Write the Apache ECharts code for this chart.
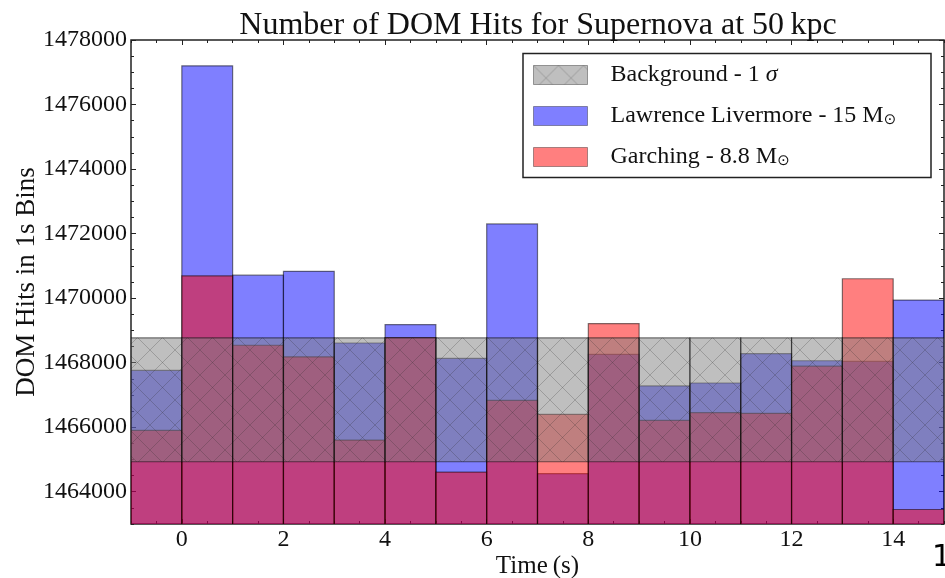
<!DOCTYPE html>
<html>
<head>
<meta charset="utf-8">
<title>Number of DOM Hits for Supernova at 50 kpc</title>
<script src="https://cdn.jsdelivr.net/npm/echarts@6/dist/echarts.min.js"></script>
<style>
  html, body { margin: 0; padding: 0; background: #fff; }
  #chart { width: 945px; height: 578px; }
</style>
</head>
<body>
<div id="chart"></div>
<script>
// Left edge of each 1 s time bin
const binStart = [-1, 0, 1, 2, 3, 4, 5, 6, 7, 8, 9, 10, 11, 12, 13, 14];

// DOM hits per bin, Lawrence Livermore model (15 solar masses)
const hitsLivermore = [1467760, 1477200, 1470710, 1470830, 1468610, 1469180, 1468130, 1472300,
                       1464560, 1468260, 1467280, 1467370, 1468280, 1468060, 1468040, 1469940];

// DOM hits per bin, Garching model (8.8 solar masses)
const hitsGarching = [1465900, 1470690, 1468540, 1468180, 1465600, 1468780, 1464610, 1466830,
                      1466400, 1469210, 1466210, 1466450, 1466430, 1467890, 1470600, 1463450];

// Background expectation, 1 sigma band per bin
const bgLower = [1464930, 1464930, 1464930, 1464930, 1464930, 1464930, 1464930, 1464930,
                 1464930, 1464930, 1464930, 1464930, 1464930, 1464930, 1464930, 1464930];
const bgUpper = [1468770, 1468770, 1468770, 1468770, 1468770, 1468770, 1468770, 1468770,
                 1468770, 1468770, 1468770, 1468770, 1468770, 1468770, 1468770, 1468770];

// Tick labels
const xTickValues = [0, 2, 4, 6, 8, 10, 12, 14];
const yTickValues = [1464000, 1466000, 1468000, 1470000, 1472000, 1474000, 1476000, 1478000];

const X_MIN = -1, X_MAX = 15, Y_MIN = 1463000, Y_MAX = 1478000;
const SERIF = '"Liberation Serif", "DejaVu Serif", serif';
const INK = '#111';

// Cross-hatch tile for the background band
function hatchTile() {
  const s = 25;
  const c = document.createElement('canvas');
  c.width = s; c.height = s;
  const g = c.getContext('2d');
  g.fillStyle = 'rgba(128,128,128,0.5)';
  g.fillRect(0, 0, s, s);
  g.strokeStyle = 'rgba(40,40,40,0.24)';
  g.lineWidth = 1;
  g.beginPath();
  g.moveTo(-2, -2); g.lineTo(s + 2, s + 2);
  g.moveTo(s + 2, -2); g.lineTo(-2, s + 2);
  g.stroke();
  return c;
}
const hatchFill = { image: hatchTile(), repeat: 'repeat' };

const BLUE = 'rgba(0,0,255,0.5)';
const RED = 'rgba(255,0,0,0.5)';
const EDGE = 'rgba(0,0,0,0.5)';

// Histogram step bars: each datum is [binStart, top, bottom]
function histRender(fill) {
  return function (params, api) {
    const x0 = api.value(0);
    const top = api.value(1);
    const bottom = api.value(2);
    const p0 = api.coord([x0, top]);
    const p1 = api.coord([x0 + 1, bottom]);
    return {
      type: 'rect',
      shape: { x: p0[0], y: p0[1], width: p1[0] - p0[0], height: p1[1] - p0[1] },
      style: { fill: fill, stroke: EDGE, lineWidth: 1.2 }
    };
  };
}

const seriesNames = ['Background - 1 σ', 'Lawrence Livermore - 15 M⊙', 'Garching - 8.8 M⊙'];

function legendText(name) {
  if (name.indexOf('σ') >= 0) return name.replace('σ', '{it|σ}');
  return name.replace('M⊙', 'M{sub|⊙}');
}

const valueAxisBase = {
  type: 'value',
  splitLine: { show: false },
  axisLine: { show: false, onZero: false }
};

function tickAxis(pos, min, max, extra) {
  return Object.assign({}, valueAxisBase, { position: pos, min: min, max: max }, extra);
}

const tickLine = { color: '#222', width: 1 };

const chart = echarts.init(document.getElementById('chart'), null, { renderer: 'canvas' });

chart.setOption({
  animation: false,
  backgroundColor: '#fff',
  title: {
    text: 'Number of DOM Hits for Supernova at 50\u2009kpc',
    left: 533,
    top: 5,
    textAlign: 'center',
    textStyle: { fontFamily: SERIF, fontSize: 32, fontWeight: 'normal', color: INK }
  },
  grid: {
    left: 131, top: 40, right: 1, bottom: 54,
    containLabel: false,
    outerBoundsMode: 'none',
    show: true, borderColor: '#222', borderWidth: 1.5, backgroundColor: 'transparent'
  },
  legend: {
    orient: 'vertical',
    left: 533,
    top: 63,
    padding: 0,
    itemWidth: 54,
    itemHeight: 19,
    itemGap: 14,
    icon: 'rect',
    selectedMode: false,
    data: seriesNames,
    formatter: legendText,
    itemStyle: { borderColor: 'rgba(0,0,0,0.35)', borderWidth: 1 },
    textStyle: {
      fontFamily: SERIF, fontSize: 24, color: INK, lineHeight: 24,
      padding: [0, 0, 0, 18],
      rich: {
        it: { fontFamily: SERIF, fontSize: 24, fontStyle: 'italic', color: INK, lineHeight: 24 },
        sub: { fontFamily: '"DejaVu Sans", sans-serif', fontSize: 15, color: INK, verticalAlign: 'bottom', lineHeight: 24, padding: [12, 0, 0, 0] }
      }
    }
  },
  graphic: [
    {
      type: 'rect', z: 3, silent: true,
      shape: { x: 523, y: 53.5, width: 408, height: 124 },
      style: { fill: '#fff', stroke: '#222', lineWidth: 1.5 }
    },
    {
      type: 'text', left: 932, top: 543, silent: true,
      style: { text: '1', fontFamily: '"DejaVu Sans", sans-serif', fontSize: 30, fill: '#000' }
    }
  ],
  xAxis: [
    tickAxis('bottom', X_MIN, X_MAX, {
      name: 'Time\u2009(s)', nameLocation: 'middle', nameGap: 30, nameMoveOverlap: false,
      nameTextStyle: { fontFamily: SERIF, fontSize: 25, color: INK },
      axisTick: { inside: true, length: 5, customValues: xTickValues, lineStyle: tickLine },
      axisLabel: { customValues: xTickValues, margin: 4, fontFamily: SERIF, fontSize: 24, color: INK }
    }),
    tickAxis('bottom', X_MIN, X_MAX, {
      interval: 0.5,
      axisTick: { inside: true, length: 3, lineStyle: tickLine },
      axisLabel: { show: false }
    }),
    tickAxis('top', X_MIN, X_MAX, {
      axisTick: { inside: true, length: 5, customValues: xTickValues, lineStyle: tickLine },
      axisLabel: { show: false }
    }),
    tickAxis('top', X_MIN, X_MAX, {
      interval: 0.5,
      axisTick: { inside: true, length: 3, lineStyle: tickLine },
      axisLabel: { show: false }
    })
  ],
  yAxis: [
    tickAxis('left', Y_MIN, Y_MAX, {
      name: 'DOM Hits in 1s Bins', nameLocation: 'middle', nameGap: 91, nameRotate: 90,
      nameMoveOverlap: false,
      nameTextStyle: { fontFamily: SERIF, fontSize: 27, color: INK },
      axisTick: { inside: true, length: 5, customValues: yTickValues, lineStyle: tickLine },
      axisLabel: {
        customValues: yTickValues, margin: 4, fontFamily: SERIF, fontSize: 24, color: INK,
        formatter: v => String(v)
      }
    }),
    tickAxis('left', Y_MIN, Y_MAX, {
      interval: 500,
      axisTick: { inside: true, length: 3, lineStyle: tickLine },
      axisLabel: { show: false }
    }),
    tickAxis('right', Y_MIN, Y_MAX, {
      axisTick: { inside: true, length: 5, customValues: yTickValues, lineStyle: tickLine },
      axisLabel: { show: false }
    }),
    tickAxis('right', Y_MIN, Y_MAX, {
      interval: 500,
      axisTick: { inside: true, length: 3, lineStyle: tickLine },
      axisLabel: { show: false }
    })
  ],
  series: [
    {
      name: seriesNames[1], type: 'custom', clip: true, z: 2,
      xAxisIndex: 0, yAxisIndex: 0,
      itemStyle: { color: BLUE },
      renderItem: histRender(BLUE),
      data: binStart.map((b, i) => [b, hitsLivermore[i], 0])
    },
    {
      name: seriesNames[2], type: 'custom', clip: true, z: 2,
      xAxisIndex: 0, yAxisIndex: 0,
      itemStyle: { color: RED },
      renderItem: histRender(RED),
      data: binStart.map((b, i) => [b, hitsGarching[i], 0])
    },
    {
      name: seriesNames[0], type: 'custom', clip: true, z: 2,
      xAxisIndex: 0, yAxisIndex: 0,
      itemStyle: { color: hatchFill },
      renderItem: histRender(hatchFill),
      data: binStart.map((b, i) => [b, bgUpper[i], bgLower[i]])
    }
  ]
});
</script>
</body>
</html>
